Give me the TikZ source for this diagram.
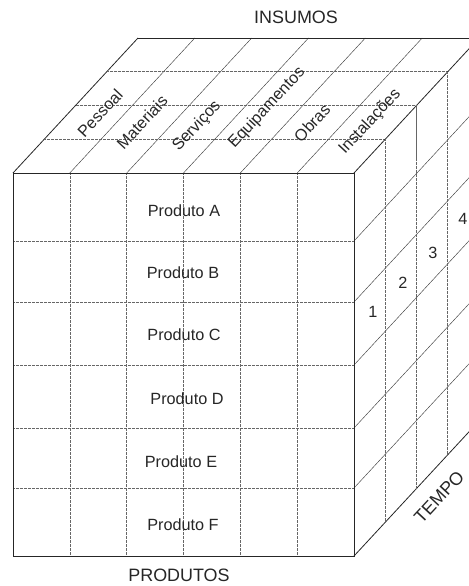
\documentclass[tikz,border=0pt]{standalone}
\usepackage{fontspec}
\setmainfont{Liberation Sans}
\begin{document}
\begin{tikzpicture}[x=1bp,y=-1bp,
  edge/.style={draw=black!85, line width=0.8bp},
  thinline/.style={draw=black!75, line width=0.45bp},
  gridline/.style={draw=black!60, line width=0.55bp, dash pattern=on 2.2bp off 0.6bp on 0.6bp off 0.6bp},
  lab/.style={font=\fontsize{16.3}{18}\selectfont, text=black!85, inner sep=0pt},
  ttl/.style={font=\fontsize{18}{20}\selectfont, text=black!85, inner sep=0pt}]
\useasboundingbox (0,0) rectangle (469,586);
\begin{scope}
\clip (0,0) rectangle (469,586);
% front inner verticals
\foreach \x in {69.8,126.7,183.5,240.3,297.2}
  \draw[gridline] (\x,173) -- (\x,556);
% front inner horizontals
\foreach \y in {241,302,365,428,488}
  \draw[gridline] (13,\y) -- (354,\y);
% top face diagonals
\foreach \x in {69.8,126.7,183.5,240.3,297.2}
  \draw[thinline] (\x,173) -- ++(125,-135);
\draw[edge] (13,173) -- ++(125,-135);
% top face depth lines
\foreach \k in {1,2,3}
  \draw[gridline] ({13+31.25*\k},{173-33.75*\k}) -- ++(341,0);
\draw[edge] (138,38) -- (479,38);
% right face diagonals
\foreach \y in {241,302,365,428,488}
  \draw[thinline] (354,\y) -- ++(125,-135);
\draw[edge] (354,173) -- ++(125,-135);
\draw[edge] (354,556) -- ++(125,-135);
% right face verticals
\foreach \k in {1,2,3}
  \draw[gridline] ({354+31.25*\k},{173-33.75*\k}) -- ({354+31.25*\k},{556-33.75*\k});
% front outline
\draw[edge] (13,173) rectangle (354,556);
\end{scope}
% titles
\node[ttl] (insumos) at (296,17) {INSUMOS};
\node[ttl] (produtos) at (179,575) {PRODUTOS};
\node[ttl, rotate=47] (tempo) at (439,497) {TEMPO};
% products
\node[lab] (pA) at (184,211) {Produto A};
\node[lab] (pB) at (183,273) {Produto B};
\node[lab] (pC) at (184,335) {Produto C};
\node[lab] (pD) at (187,399) {Produto D};
\node[lab] (pE) at (181,462) {Produto E};
\node[lab] (pF) at (183,525) {Produto F};
% inputs
\node[lab, rotate=47] (i1) at (100,113) {Pessoal};
\node[lab, rotate=47] (i2) at (142,122) {Materiais};
\node[lab, rotate=47] (i3) at (197,126) {Serviços};
\node[lab, rotate=47] (i4) at (267,108) {Equipamentos};
\node[lab, rotate=47] (i5) at (312,123) {Obras};
\node[lab, rotate=47] (i6) at (370,122) {Instalações};
% time
\node[lab] (t1) at (373,312) {1};
\node[lab] (t2) at (403,283) {2};
\node[lab] (t3) at (433,253) {3};
\node[lab] (t4) at (463,219) {4};
\end{tikzpicture}
\end{document}
